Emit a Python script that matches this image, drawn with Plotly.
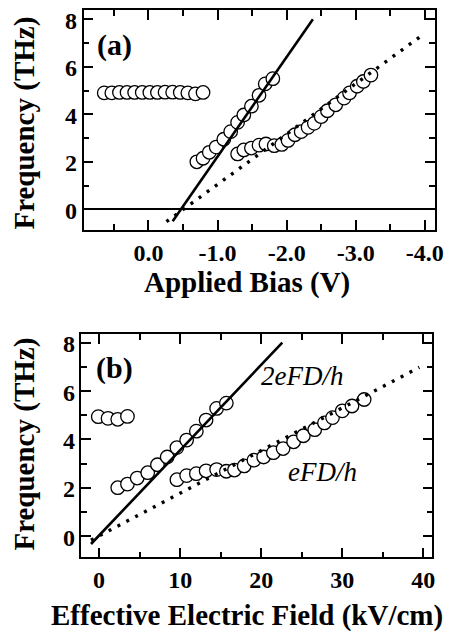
import plotly.graph_objects as go

# ---------------- data ----------------
# Panel (a): frequency vs applied bias
bias_flat = [0.64, 0.53, 0.42, 0.31, 0.20, 0.09, -0.02, -0.13, -0.24, -0.35, -0.46, -0.57, -0.68, -0.79]
freq_flat_a = [4.9, 4.9, 4.92, 4.92, 4.92, 4.92, 4.92, 4.92, 4.93, 4.93, 4.92, 4.9, 4.86, 4.92]

bias_b1 = [-0.70, -0.79, -0.88, -0.98, -1.09, -1.19, -1.29, -1.38, -1.49, -1.60, -1.69, -1.80]
freq_b1 = [2.0, 2.15, 2.4, 2.62, 2.95, 3.27, 3.66, 3.97, 4.34, 4.8, 5.28, 5.5]

bias_b2 = [-1.29, -1.38, -1.49, -1.60, -1.70, -1.82, -1.93, -2.02, -2.12, -2.21,
           -2.31, -2.40, -2.50, -2.59, -2.71, -2.83, -2.91, -3.02, -3.11, -3.22]
freq_b2 = [2.33, 2.5, 2.58, 2.7, 2.75, 2.68, 2.73, 2.9, 3.14, 3.27,
           3.45, 3.62, 3.9, 4.15, 4.4, 4.68, 4.9, 5.18, 5.38, 5.65]

# Panel (b): frequency vs effective electric field
field_flat = [-0.1, 1.1, 2.3, 3.5]
freq_flat_b = [4.94, 4.87, 4.83, 4.95]
field_b1 = [2.3, 3.5, 4.7, 6.0, 7.2, 8.4, 9.6, 10.8, 12.0, 13.2, 14.5, 15.7]
field_b2 = [9.6, 10.8, 12.0, 13.2, 14.5, 15.7, 16.7, 17.9, 19.1, 20.3,
            21.5, 22.7, 24.0, 25.2, 26.6, 27.8, 28.8, 30.0, 31.2, 32.7]

# fitted lines (end points)
line2_a_x = [-0.35, -2.38]
line2_a_y = [-0.5, 8.0]
line1_a_x = [-0.26, -3.92]
line1_a_y = [-0.52, 7.24]
line2_b_x = [-1.0, 22.6]
line2_b_y = [-0.33, 8.0]
line1_b_x = [-1.0, 39.5]
line1_b_y = [-0.17, 6.98]

xticks_a = [0, -1, -2, -3, -4]
xticklabels_a = ["0.0", "-1.0", "-2.0", "-3.0", "-4.0"]
xticks_b = [0, 10, 20, 30, 40]
xticklabels_b = ["0", "10", "20", "30", "40"]
yticks = [0, 2, 4, 6, 8]
yticklabels = ["0", "2", "4", "6", "8"]

# ---------------- figure ----------------
W, H = 455, 632
fig = go.Figure()

marker = dict(symbol="circle", size=13.5, color="white", line=dict(color="black", width=1.3))

def circles(x, y, xa, ya):
    fig.add_trace(go.Scatter(x=x, y=y, mode="markers", marker=marker,
                             xaxis=xa, yaxis=ya, showlegend=False, hoverinfo="skip"))

circles(bias_flat, freq_flat_a, "x", "y")
circles(bias_b1, freq_b1, "x", "y")
circles(bias_b2, freq_b2, "x", "y")
circles(field_flat, freq_flat_b, "x2", "y2")
circles(field_b1, freq_b1, "x2", "y2")
circles(field_b2, freq_b2, "x2", "y2")

def line(x, y, xa, ya, dotted):
    fig.add_trace(go.Scatter(
        x=x, y=y, mode="lines", xaxis=xa, yaxis=ya, showlegend=False, hoverinfo="skip",
        line=dict(color="black", width=3.4 if dotted else 2.6,
                  dash="3px,7px" if dotted else "solid")))

line(line2_a_x, line2_a_y, "x", "y", False)
line(line1_a_x, line1_a_y, "x", "y", True)
line(line2_b_x, line2_b_y, "x2", "y2", False)
line(line1_b_x, line1_b_y, "x2", "y2", True)

def bold(labels):
    return ["<b>%s</b>" % s for s in labels]

tickfont = dict(family="Liberation Serif", size=24, color="black")
common = dict(showline=True, linecolor="black", linewidth=1.5, mirror="allticks",
              ticks="inside", ticklen=10, tickwidth=1.5, tickcolor="black",
              showgrid=False, tickfont=tickfont, fixedrange=True, tickmode="array")

def px_x(p):
    return p / W

def px_y(p):
    return 1 - p / H

def minor(d):
    return dict(tickmode="linear", tick0=0, dtick=d, ticks="inside",
                ticklen=6, tickwidth=1.5, tickcolor="black")

fig.update_layout(
    width=W, height=H, margin=dict(l=0, r=0, t=0, b=0),
    paper_bgcolor="white", plot_bgcolor="white",
    xaxis=dict(domain=[px_x(85), px_x(443)], range=[0.94, -4.15], anchor="y",
               tickvals=xticks_a, ticktext=bold(xticklabels_a), minor=minor(0.5),
               ticklabelstandoff=0, zeroline=False, **common),
    yaxis=dict(domain=[px_y(230), px_y(10)], range=[-0.87, 8.39], anchor="x",
               tickvals=yticks, showticklabels=False, minor=minor(1),
               zeroline=True, zerolinecolor="black", zerolinewidth=1.5, **common),
    xaxis2=dict(domain=[px_x(82.7), px_x(440)], range=[-2.2, 41.1], anchor="y2",
                tickvals=xticks_b, ticktext=bold(xticklabels_b), minor=minor(5),
                ticklabelstandoff=0, zeroline=False, **common),
    yaxis2=dict(domain=[px_y(557.3), px_y(334)], range=[-0.88, 8.36], anchor="x2",
                tickvals=yticks, showticklabels=False, minor=minor(1),
                zeroline=False, **common),
)

# y tick labels, positioned through the y axes' scales
ytickfont = dict(family="Liberation Serif", size=24, color="black", weight="bold")
for yref, xr in (("y", 80), ("y2", 78)):
    for v, t in zip(yticks, yticklabels):
        fig.add_annotation(text=t, x=px_x(xr), y=v, xref="paper", yref=yref,
                           xanchor="right", yanchor="middle", yshift=-1.5,
                           showarrow=False, font=ytickfont)

bold_title = dict(family="Liberation Serif", size=29, color="black", weight="bold")
panel_font = dict(family="Liberation Serif", size=30, color="black", weight="bold")
ital_font = dict(family="Liberation Serif", size=27, color="black", style="italic")

ann = [
    dict(text="Applied Bias (V)", x=px_x(251), y=px_y(283), font=bold_title),
    dict(text="Effective Electric Field (kV/cm)", x=px_x(251.5), y=px_y(615), font=bold_title),
    dict(text="Frequency (THz)", x=px_x(24), y=px_y(123), font=bold_title, textangle=-90),
    dict(text="Frequency (THz)", x=px_x(24), y=px_y(444), font=bold_title, textangle=-90),
    dict(text="(a)", x=px_x(117), y=px_y(45), font=panel_font),
    dict(text="(b)", x=px_x(117), y=px_y(368), font=panel_font),
]
for a in ann:
    fig.add_annotation(xref="paper", yref="paper", showarrow=False,
                       xanchor="center", yanchor="middle", **a)

fig.add_annotation(text="2eFD/h", x=25.07, y=6.62, xref="x2", yref="y2", showarrow=False,
                   xanchor="center", yanchor="middle", font=ital_font)
fig.add_annotation(text="eFD/h", x=27.55, y=2.66, xref="x2", yref="y2", showarrow=False,
                   xanchor="center", yanchor="middle", font=ital_font)

fig.write_html("out.html")
